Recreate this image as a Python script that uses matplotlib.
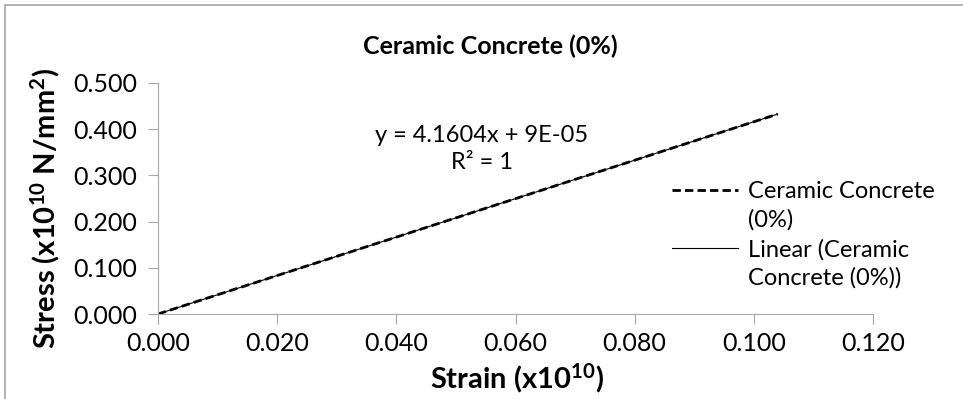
import numpy as np
import matplotlib.pyplot as plt
from matplotlib.lines import Line2D
from matplotlib.patches import Rectangle

plt.rcParams['font.family'] = ['Lato', 'DejaVu Sans']
plt.rcParams['mathtext.default'] = 'regular'

# data
strain = [0.000, 0.0208, 0.0416, 0.0624, 0.0832, 0.104]
stress = [0.000, 0.0866, 0.1731, 0.2597, 0.3462, 0.4327]
series_name = "Ceramic Concrete (0%)"
eq_text = "y = 4.1604x + 9E-05\nR² = 1"
xticks = [0.000, 0.020, 0.040, 0.060, 0.080, 0.100, 0.120]
yticks = [0.000, 0.100, 0.200, 0.300, 0.400, 0.500]

W, H = 963, 399
fig = plt.figure(figsize=(W / 100, H / 100), dpi=100)
ax = fig.add_axes([158/W, 1 - 314/H, (873 - 158)/W, (314 - 83)/H])

# chart area border (cropped on right and bottom)
fig.add_artist(Rectangle((5/W, -0.1), 1.2, 1 - 5/H + 0.1, transform=fig.transFigure,
                         fill=False, edgecolor='#a6a6a6', linewidth=1.2))

ax.plot(strain, stress, color='black', linestyle=(0, (3, 1.5)), linewidth=2)
coef = np.polyfit(strain, stress, 1)
xs = np.array([min(strain), max(strain)])
ax.plot(xs, np.polyval(coef, xs), color='black', linewidth=0.8)

ax.set_xlim(0, 0.12)
ax.set_ylim(0, 0.5)
ax.set_xticks(xticks)
ax.set_yticks(yticks)
ax.set_xticklabels([f"{v:.3f}" for v in xticks])
ax.set_yticklabels([f"{v:.3f}" for v in yticks])
for s in ['top', 'right']:
    ax.spines[s].set_visible(False)
for s in ['left', 'bottom']:
    ax.spines[s].set_color('#a6a6a6')
ax.tick_params(direction='out', length=7, color='#a6a6a6', labelsize=18)
ax.tick_params(axis='x', pad=6)
ax.tick_params(axis='y', pad=8)

# axis titles and chart title
fig.text(517/W, 1 - 378/H, "Strain (x10$^{10}$)", fontsize=21, fontweight='bold',
         ha='center', va='center')
fig.text(45/W, 1 - 208/H, "Stress (x10$^{10}$ N/mm$^{2}$)", fontsize=21,
         fontweight='bold', rotation=90, ha='center', va='center')
fig.text(490/W, 1 - 46/H, "Ceramic Concrete (0%)", fontsize=18, fontweight='bold',
         ha='center', va='center')

# trendline label
fig.text(482/W, 1 - 149/H, eq_text, fontsize=17, ha='center', va='center', linespacing=1.35)

# legend, handles aligned with first text line as in the original
fig.add_artist(Line2D([672/W, 738/W], [1 - 190/H] * 2, transform=fig.transFigure,
                      color='black', linestyle=(0, (3, 1.5)), linewidth=2))
fig.text(748/W, 1 - 206/H, "Ceramic Concrete\n(0%)", fontsize=17, ha='left', va='center',
         linespacing=1.4)
fig.add_artist(Line2D([672/W, 738/W], [1 - 248/H] * 2, transform=fig.transFigure,
                      color='black', linewidth=0.8))
fig.text(748/W, 1 - 264/H, "Linear (Ceramic\nConcrete (0%))", fontsize=17, ha='left',
         va='center', linespacing=1.4)

fig.savefig("out.png", dpi=100)
